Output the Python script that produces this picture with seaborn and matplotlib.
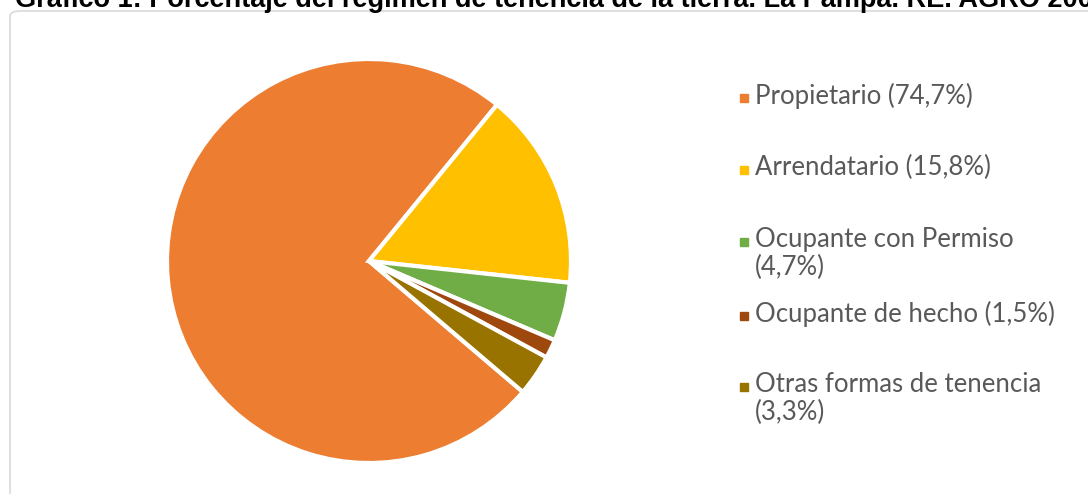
import matplotlib
matplotlib.use("Agg")
import matplotlib.pyplot as plt
import seaborn as sns
from matplotlib.patches import FancyBboxPatch
from matplotlib.lines import Line2D

categorias = ["Propietario", "Arrendatario", "Ocupante con Permiso",
              "Ocupante de hecho", "Otras formas de tenencia"]
porcentajes = [74.7, 15.8, 4.7, 1.5, 3.3]
etiquetas = ["Propietario (74,7%)", "Arrendatario (15,8%)",
             "Ocupante con Permiso\n(4,7%)", "Ocupante de hecho (1,5%)",
             "Otras formas de tenencia\n(3,3%)"]
colores = ["#ED7D31", "#FFC000", "#70AD47", "#9E480E", "#997300"]
titulo = "Gráfico 1: Porcentaje del régimen de tenencia de la tierra. La Pampa. RE. AGRO 2008"

sns.set_theme(style="white")
plt.rcParams['font.family'] = ['Lato', 'DejaVu Sans']

W, H = 1088, 494
fig = plt.figure(figsize=(W / 100, H / 100), dpi=100)

# marco del area del grafico
marco = FancyBboxPatch((10 / W, -0.1), 1.2, (H - 11) / H + 0.1,
                       boxstyle="round,pad=0,rounding_size=0.01",
                       transform=fig.transFigure, fill=False,
                       edgecolor="#D9D9D9", linewidth=1.2)
fig.patches.append(marco)

# titulo (cortado arriba en el original)
fig.text(15 / W, (H - 7) / H, titulo, fontsize=19.5, fontweight="bold",
         family=['Liberation Sans', 'DejaVu Sans'], color="black",
         va="baseline", ha="left")

cx, cy, r = 369, 261, 202
ax = fig.add_axes([(cx - r) / W, (H - cy - r) / H, 2 * r / W, 2 * r / H])
ax.pie(porcentajes, colors=colores, startangle=-40.4, counterclock=False,
       wedgeprops=dict(edgecolor="white", linewidth=3))
ax.set_xlim(-1, 1)
ax.set_ylim(-1, 1)
ax.set_axis_off()

# leyenda al estilo Excel: marcador alineado a la primera linea
ys = [98, 170, 242, 316, 387]
for y, lab, col in zip(ys, etiquetas, colores):
    fig.add_artist(Line2D([744 / W], [(H - y) / H], marker="s", markersize=6,
                          color=col, linestyle="none",
                          transform=fig.transFigure))
    fig.text(755 / W, (H - y + 15) / H, lab, fontsize=18.5, color="#595959",
             va="top", ha="left", linespacing=1.17)

fig.savefig("out.png", dpi=100)
